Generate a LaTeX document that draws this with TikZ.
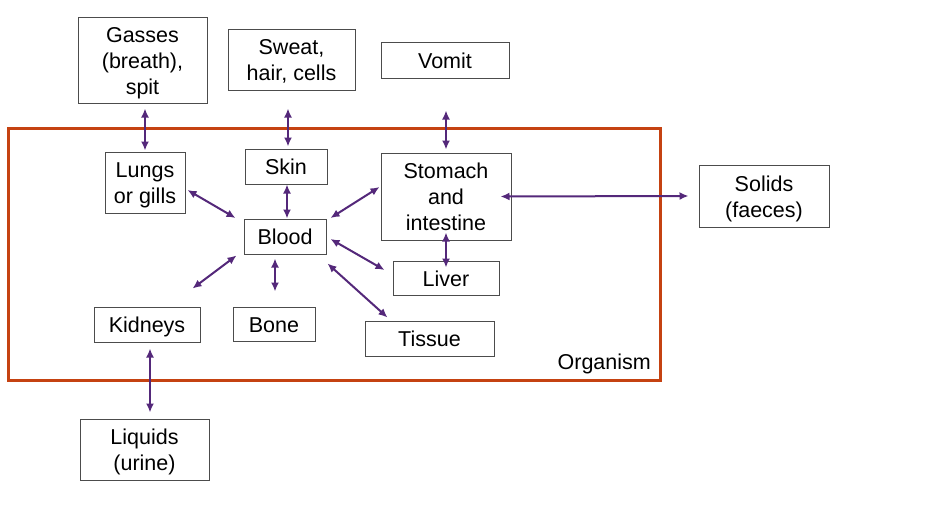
\documentclass[tikz,border=0pt]{standalone}
\usepackage{fontspec}
\setmainfont{Liberation Sans}
\usetikzlibrary{calc,arrows.meta}
\definecolor{orgred}{RGB}{197,66,17}
\definecolor{arrpurple}{RGB}{84,40,122}
\newcommand{\boxtext}[1]{\raisebox{-3pt}[\height][\depth]{\begin{tabular}{@{}c@{}}#1\end{tabular}}}
\tikzset{
  box/.style={draw=black!70, line width=1pt, fill=white, inner sep=0pt,
    font=\fontsize{21.5}{26}\selectfont},
  arr/.style={draw=arrpurple, line width=2pt, {Latex[length=9pt,width=8pt]}-{Latex[length=9pt,width=8pt]}}
}
\begin{document}
\begin{tikzpicture}[x=1pt,y=-1pt]
\useasboundingbox (0,0) rectangle (935,530);
\fill[white] (0,0) rectangle (935,530);
% organism
\draw[orgred, line width=3pt] (8,128) rectangle (660,380);
\node[anchor=south east, inner sep=0pt, font=\fontsize{21.5}{26}\selectfont] (orglabel) at (651,374) {Organism};
% boxes
\node[box, minimum width=129pt, minimum height=86pt] (gasses) at (142.5,60) {\boxtext{Gasses\\(breath),\\spit}};
\node[box, minimum width=127pt, minimum height=61pt] (sweat) at (291.5,59.5) {\boxtext{Sweat,\\hair, cells}};
\node[box, minimum width=128pt, minimum height=36pt] (vomit) at (445,60) {\boxtext{Vomit}};
\node[box, minimum width=80pt, minimum height=61pt] (lungs) at (145,182.5) {\boxtext{Lungs\\or gills}};
\node[box, minimum width=82pt, minimum height=35pt] (skin) at (286,166.5) {\boxtext{Skin}};
\node[box, minimum width=130pt, minimum height=87pt] (stomach) at (446,196.5) {\boxtext{Stomach\\and\\intestine}};
\node[box, minimum width=82pt, minimum height=35pt] (blood) at (285,236.5) {\boxtext{Blood}};
\node[box, minimum width=106pt, minimum height=34pt] (liver) at (446,278) {\boxtext{Liver}};
\node[box, minimum width=106pt, minimum height=35pt] (kidneys) at (147,324.5) {\boxtext{Kidneys}};
\node[box, minimum width=82pt, minimum height=34pt] (bone) at (274,324) {\boxtext{Bone}};
\node[box, minimum width=129pt, minimum height=35pt] (tissue) at (429.5,338.5) {\boxtext{Tissue}};
\node[box, minimum width=130pt, minimum height=62pt] (solids) at (764,196) {\boxtext{Solids\\(faeces)}};
\node[box, minimum width=129pt, minimum height=61pt] (liquids) at (144.5,449.5) {\boxtext{Liquids\\(urine)}};
% arrows
\draw[arr] ($(gasses.south)+(2.5,5)$) -- ($(lungs.north)+(0,-1)$);
\draw[arr] ($(sweat.south)+(-3.5,18)$) -- ($(skin.north)+(2,-2)$);
\draw[arr] ($(vomit.south)+(1,32)$) -- ($(stomach.north)+(0,-3)$);
\draw[arr] ($(lungs.east)+(2,7.5)$) -- ($(blood.west)+(-8,-18.5)$);
\draw[arr] ($(skin.south)+(1,0)$) -- ($(blood.north)+(2,0)$);
\draw[arr] ($(stomach.west)+(-1,-9.5)$) -- ($(blood.east)+(4,-18.5)$);
\draw[arr] ($(stomach.east)+(-11,0)$) -- ($(solids.west)+(-10,0)$);
\draw[arr] ($(stomach.south)+(0,-8)$) -- ($(liver.north)+(0,7)$);
\draw[arr] ($(blood.east)+(4,2.5)$) -- ($(liver.west)+(-8,-8)$);
\draw[arr] ($(blood.south east)+(1,9)$) -- ($(tissue.north west)+(23,-3)$);
\draw[arr] ($(blood.south west)+(-7,1)$) -- ($(kidneys.north east)+(-8,-18)$);
\draw[arr] ($(blood.south)+(-10,4)$) -- ($(bone.north)+(1,-15)$);
\draw[arr] ($(kidneys.south)+(3,6)$) -- ($(liquids.north)+(5.5,-6)$);
\end{tikzpicture}
\end{document}
